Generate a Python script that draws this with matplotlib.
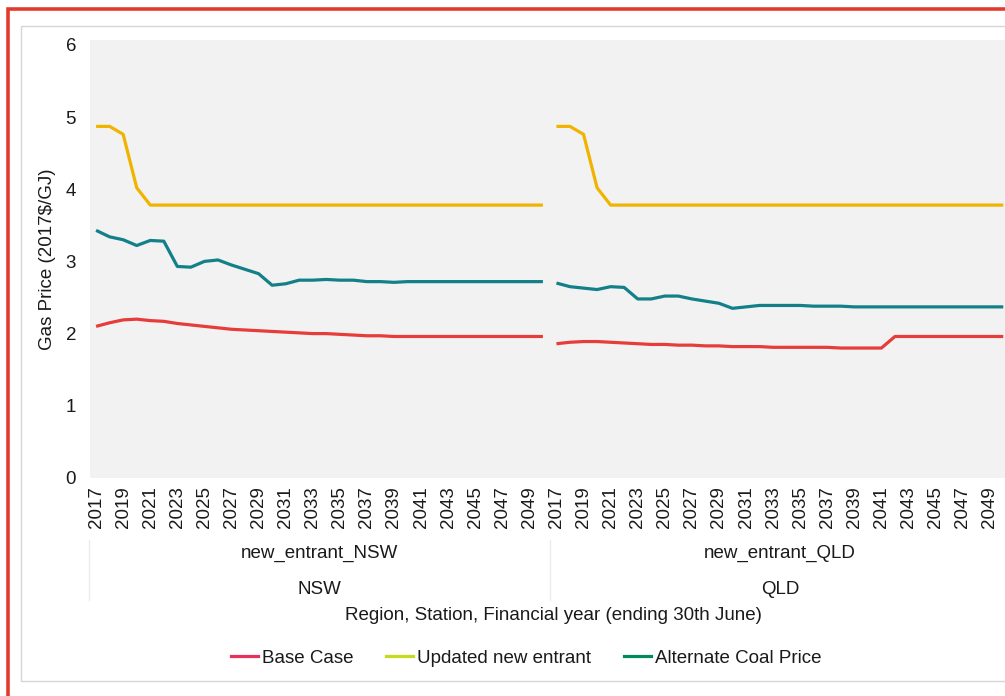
import numpy as np
import matplotlib
matplotlib.use("Agg")
import matplotlib.pyplot as plt
from matplotlib.lines import Line2D
from matplotlib.patches import Rectangle
from matplotlib.transforms import blended_transform_factory

# -------------------------------
# DATA
# -------------------------------
years = list(range(2017, 2051))
regions = ["NSW", "QLD"]
stations = ["new_entrant_NSW", "new_entrant_QLD"]

base_nsw = [2.10, 2.15, 2.19, 2.20, 2.18, 2.17, 2.14, 2.12, 2.10, 2.08,
            2.06, 2.05, 2.04, 2.03, 2.02, 2.01, 2.00, 2.00, 1.99, 1.98,
            1.97, 1.97, 1.96, 1.96, 1.96, 1.96, 1.96, 1.96, 1.96, 1.96,
            1.96, 1.96, 1.96, 1.96]
base_qld = [1.86, 1.88, 1.89, 1.89, 1.88, 1.87, 1.86, 1.85, 1.85, 1.84,
            1.84, 1.83, 1.83, 1.82, 1.82, 1.82, 1.81, 1.81, 1.81, 1.81,
            1.81, 1.80, 1.80, 1.80, 1.80, 1.96, 1.96, 1.96, 1.96, 1.96,
            1.96, 1.96, 1.96, 1.96]

upd_nsw = [4.87, 4.87, 4.76, 4.02, 3.78] + [3.78] * 29
upd_qld = [4.87, 4.87, 4.76, 4.02, 3.78] + [3.78] * 29

alt_nsw = [3.43, 3.34, 3.30, 3.22, 3.29, 3.28, 2.93, 2.92, 3.00, 3.02,
           2.95, 2.89, 2.83, 2.67, 2.69, 2.74, 2.74, 2.75, 2.74, 2.74,
           2.72, 2.72, 2.71, 2.72, 2.72, 2.72, 2.72, 2.72, 2.72, 2.72,
           2.72, 2.72, 2.72, 2.72]
alt_qld = [2.70, 2.65, 2.63, 2.61, 2.65, 2.64, 2.48, 2.48, 2.52, 2.52,
           2.48, 2.45, 2.42, 2.35, 2.37, 2.39, 2.39, 2.39, 2.39, 2.38,
           2.38, 2.38, 2.37, 2.37, 2.37, 2.37, 2.37, 2.37, 2.37, 2.37,
           2.37, 2.37, 2.37, 2.37]

series_names = ["Base Case", "Updated new entrant", "Alternate Coal Price"]
line_colors = ["#e63c3a", "#f0b400", "#137f89"]
legend_colors = ["#e8305a", "#c5dc1a", "#008c5a"]

# -------------------------------
# FIGURE
# -------------------------------
W, H = 1005, 696
plt.rcParams["font.family"] = ["Liberation Sans", "DejaVu Sans"]
FS = 13.5
TXT = "#1a1a1a"

fig = plt.figure(figsize=(W / 100, H / 100), dpi=100)
fig.patch.set_facecolor("white")

# outer borders
fig.patches.append(Rectangle((21 / W, (H - 681) / H), 1.2, (681 - 26) / H, transform=fig.transFigure,
                             fill=False, edgecolor="#d6d6d6", lw=1.0))
fig.patches.append(Rectangle((8 / W, -0.1), 1.2, (H - 9) / H + 0.1, transform=fig.transFigure,
                             fill=False, edgecolor="#e23b2e", lw=2.6))

n = len(years)
px_per = 13.54
x_left = -0.45
ax_w = 920
ax = fig.add_axes([90 / W, (H - 478) / H, ax_w / W, (478 - 40) / H])
ax.set_facecolor("#f2f2f2")
ax.set_xlim(x_left, x_left + ax_w / px_per)
ax.set_ylim(0, 438 / 72.2)

idx_nsw = np.arange(n)
idx_qld = np.arange(n) + n

groups = [(base_nsw, base_qld), (upd_nsw, upd_qld), (alt_nsw, alt_qld)]
for (nsw, qld), c in zip(groups, line_colors):
    ax.plot(idx_nsw, nsw, color=c, lw=2.3, solid_capstyle="butt")
    ax.plot(idx_qld, qld, color=c, lw=2.3, solid_capstyle="butt")

for s in ax.spines.values():
    s.set_visible(False)

ax.set_yticks(range(0, 7))
ax.tick_params(axis="y", length=0, pad=10, labelsize=FS, labelcolor=TXT)

tick_pos = list(idx_nsw[::2]) + list(idx_qld[::2])
tick_lab = [str(y) for y in years[::2]] * 2
ax.set_xticks(tick_pos)
ax.set_xticklabels(tick_lab, rotation=90)
ax.tick_params(axis="x", length=0, pad=6, labelsize=FS, labelcolor=TXT)

# category labels
tr = blended_transform_factory(ax.transData, fig.transFigure)
for k, (st, rg) in enumerate(zip(stations, regions)):
    xc = k * n + (n - 1) / 2
    ax.text(xc, (H - 553) / H, st, transform=tr, ha="center", va="center", fontsize=FS, color=TXT)
    ax.text(xc, (H - 590) / H, rg, transform=tr, ha="center", va="center", fontsize=FS, color=TXT)
for xb in [x_left - 0.1, n - 0.5]:
    ax.plot([xb, xb], [(H - 540) / H, (H - 600) / H], transform=tr, color="#ebebeb",
            lw=1.0, clip_on=False)

fig.text(553 / W, (H - 615) / H, "Region, Station, Financial year (ending 30th June)",
         ha="center", va="center", fontsize=FS, color=TXT)
fig.text(48 / W, (H - 259) / H, "Gas Price (2017$/GJ)", rotation=90,
         ha="center", va="center", fontsize=FS, color=TXT)

# legend
handles = [Line2D([0], [0], color=c, lw=2.3) for c in legend_colors]
fig.legend(handles, series_names, loc="center", bbox_to_anchor=(526 / W, (H - 658) / H),
           ncol=3, frameon=False, fontsize=FS, handlelength=1.45, handletextpad=0.2,
           columnspacing=1.75, labelcolor=TXT)

fig.savefig("out.png", dpi=100)
